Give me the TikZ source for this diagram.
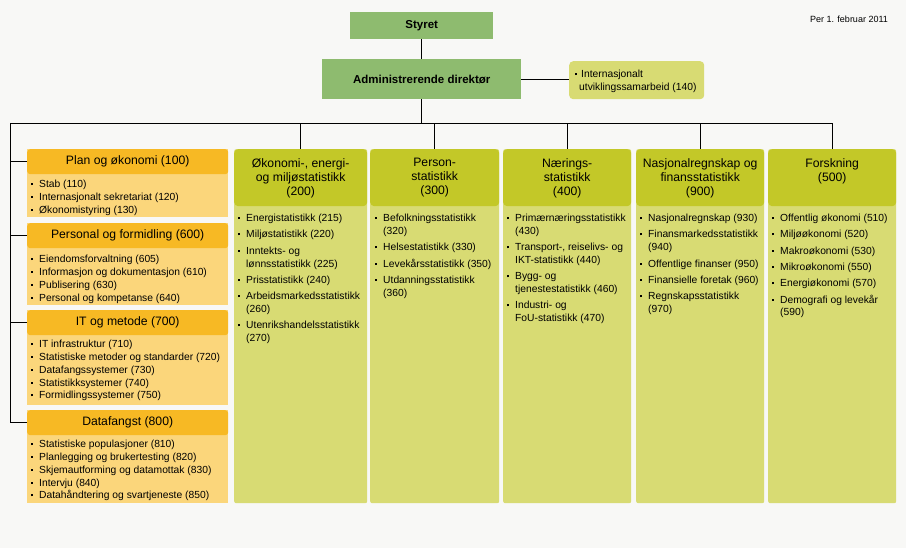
\documentclass[tikz,border=0pt]{standalone}
\usepackage{fontspec}
\setmainfont{Liberation Sans}
\usetikzlibrary{positioning}
\definecolor{bakgrunn}{HTML}{F8F8F6}
\definecolor{ledergronn}{HTML}{8EBB6F}
\definecolor{stabhode}{HTML}{F7B924}
\definecolor{stabkropp}{HTML}{FBD67B}
\definecolor{avdhode}{HTML}{C3C828}
\definecolor{avdkropp}{HTML}{D8DB73}
\newcommand{\bul}{\makebox[8pt][l]{\rule[2.5pt]{2pt}{2pt}}}
\newcommand{\ind}{\hspace*{8pt}}
\tikzset{
  leder/.style={fill=ledergronn, inner sep=0pt, anchor=north west, font=\fontsize{11.5}{14}\selectfont\bfseries},
  stabhd/.style={fill=stabhode, rounded corners=3pt, inner sep=0pt, anchor=north west, minimum width=201pt, minimum height=25pt, font=\fontsize{12.2}{14}\selectfont},
  stabbd/.style={fill=stabkropp, inner sep=0pt, anchor=north west, minimum width=201pt},
  avdhd/.style={fill=avdhode, rounded corners=4pt, inner sep=0pt, anchor=north west, minimum height=57pt},
  avdbd/.style={fill=avdkropp, rounded corners=2pt, inner sep=0pt, anchor=north west, minimum height=354pt},
  hdtekst/.style={align=center, inner sep=0pt, font=\fontsize{12.2}{14}\selectfont},
  liste/.style={align=left, inner sep=0pt, anchor=north west, font=\fontsize{10.3}{12.8}\selectfont},
  strek/.style={line width=0.9pt}
}
\begin{document}
\begin{tikzpicture}[x=1pt, y=-1pt]
  \fill[bakgrunn] (0,0) rectangle (906,548);
  \useasboundingbox (0,0) rectangle (906,548);
  \node[font=\fontsize{9}{11}\selectfont] (dato) at (849,19) {Per 1. februar 2011};

  % ledelse
  \node[leder, minimum width=143pt, minimum height=27pt] (styret) at (350,12) {Styret};
  \node[leder, minimum width=199pt, minimum height=40pt] (adm) at (322,59) {Administrerende direktør};
  \node[fill=avdkropp, rounded corners=4pt, inner sep=0pt, anchor=north west, minimum width=135pt, minimum height=38pt] (intl) at (569,61) {};
  \node[liste, font=\fontsize{10.3}{13}\selectfont] (intlTxt) at (575,70) {\makebox[6pt][l]{\rule[2.5pt]{2pt}{2pt}}Internasjonalt\\\hspace*{4pt}utviklingssamarbeid (140)};

  % stabsavdelinger
  \node[stabbd, minimum height=68pt] (planBd) at (27,149) {};
  \node[stabhd] (planHdr) at (27,149) {Plan og økonomi (100)};
  \node[liste] (planTxt) at (31,180) {\bul Stab (110)\\\bul Internasjonalt sekretariat (120)\\\bul Økonomistyring (130)};

  \node[stabbd, minimum height=82pt] (persBd) at (27,223) {};
  \node[stabhd] (persHdr) at (27,223) {Personal og formidling (600)};
  \node[liste] (persTxt) at (31,255) {\bul Eiendomsforvaltning (605)\\\bul Informasjon og dokumentasjon (610)\\\bul Publisering (630)\\\bul Personal og kompetanse (640)};

  \node[stabbd, minimum height=95pt] (itBd) at (27,310) {};
  \node[stabhd] (itHdr) at (27,310) {IT og metode (700)};
  \node[liste] (itTxt) at (31,340) {\bul IT infrastruktur (710)\\\bul Statistiske metoder og standarder (720)\\\bul Datafangssystemer (730)\\\bul Statistikksystemer (740)\\\bul Formidlingssystemer (750)};

  \node[stabbd, minimum height=93pt] (datBd) at (27,410) {};
  \node[stabhd] (datHdr) at (27,410) {Datafangst (800)};
  \node[liste] (datTxt) at (31,440) {\bul Statistiske populasjoner (810)\\\bul Planlegging og brukertesting (820)\\\bul Skjemautforming og datamottak (830)\\\bul Intervju (840)\\\bul Datahåndtering og svartjeneste (850)};

  % fagavdelinger
  \node[avdbd, minimum width=133pt] (okoBd) at (234,149) {};
  \node[avdhd, minimum width=133pt] (okoHdr) at (234,149) {};
  \node[hdtekst, below=9pt of okoHdr.north] (okoTit) {Økonomi-, energi-\\og miljøstatistikk\\(200)};
  \node[liste] (okoTxt) at (238,214) {\bul Energistatistikk (215)\\[3.5pt]\bul Miljøstatistikk (220)\\[3.5pt]\bul Inntekts- og\\\ind lønnsstatistikk (225)\\[3.5pt]\bul Prisstatistikk (240)\\[3.5pt]\bul Arbeidsmarkedsstatistikk\\\ind (260)\\[3.5pt]\bul Utenrikshandelsstatistikk\\\ind (270)};

  \node[avdbd, minimum width=129pt] (perBd) at (370,149) {};
  \node[avdhd, minimum width=129pt] (perHdr) at (370,149) {};
  \node[hdtekst, below=9pt of perHdr.north] (perTit) {Person-\\statistikk\\(300)};
  \node[liste] (perTxt) at (375,214) {\bul Befolkningsstatistikk\\\ind (320)\\[3.5pt]\bul Helsestatistikk (330)\\[3.5pt]\bul Levekårsstatistikk (350)\\[3.5pt]\bul Utdanningsstatistikk\\\ind (360)};

  \node[avdbd, minimum width=128pt] (naeBd) at (503,149) {};
  \node[avdhd, minimum width=128pt] (naeHdr) at (503,149) {};
  \node[hdtekst, below=9pt of naeHdr.north] (naeTit) {Nærings-\\statistikk\\(400)};
  \node[liste] (naeTxt) at (507,214) {\bul Primærnæringsstatistikk\\\ind (430)\\[3.5pt]\bul Transport-, reiselivs- og\\\ind IKT-statistikk (440)\\[3.5pt]\bul Bygg- og\\\ind tjenestestatistikk (460)\\[3.5pt]\bul Industri- og\\\ind FoU-statistikk (470)};

  \node[avdbd, minimum width=128pt] (nasBd) at (636,149) {};
  \node[avdhd, minimum width=128pt] (nasHdr) at (636,149) {};
  \node[hdtekst, below=9pt of nasHdr.north] (nasTit) {Nasjonalregnskap og\\finansstatistikk\\(900)};
  \node[liste] (nasTxt) at (640,214) {\bul Nasjonalregnskap (930)\\[3.5pt]\bul Finansmarkedsstatistikk\\\ind (940)\\[3.5pt]\bul Offentlige finanser (950)\\[3.5pt]\bul Finansielle foretak (960)\\[3.5pt]\bul Regnskapsstatistikk\\\ind (970)};

  \node[avdbd, minimum width=128pt] (forBd) at (768,149) {};
  \node[avdhd, minimum width=128pt] (forHdr) at (768,149) {};
  \node[hdtekst, below=9pt of forHdr.north] (forTit) {Forskning\\(500)};
  \node[liste] (forTxt) at (772,214) {\bul Offentlig økonomi (510)\\[3.5pt]\bul Miljøøkonomi (520)\\[3.5pt]\bul Makroøkonomi (530)\\[3.5pt]\bul Mikroøkonomi (550)\\[3.5pt]\bul Energiøkonomi (570)\\[3.5pt]\bul Demografi og levekår\\\ind (590)};

  % linjer
  \coordinate (buss) at (10,123);
  \draw[strek] (styret) -- (adm);
  \draw[strek] (adm.east) -- (adm.east -| intl.west);
  \draw[strek] (adm.south) -- (adm.south |- buss);
  \draw[strek] (buss) -- (buss -| forHdr.north) -- (forHdr.north);
  \foreach \n in {okoHdr, perHdr, naeHdr, nasHdr}
    \draw[strek] (\n.north) -- (\n.north |- buss);
  \draw[strek] (buss) |- (datHdr.west);
  \foreach \n in {planHdr, persHdr, itHdr}
    \draw[strek] (buss |- \n.west) -- (\n.west);
\end{tikzpicture}
\end{document}
